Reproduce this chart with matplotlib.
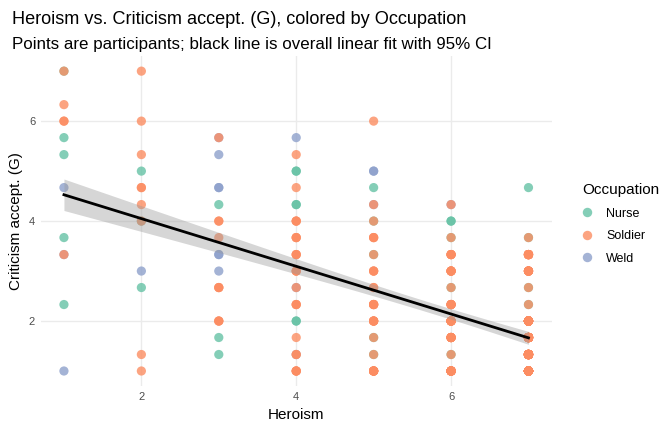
import numpy as np
import matplotlib
matplotlib.use("Agg")
import matplotlib.pyplot as plt
from matplotlib.lines import Line2D

plt.rcParams['font.family'] = ['Liberation Sans', 'DejaVu Sans']

# Distinct (heroism, criticism, occupation) positions and how many participants
# sit on each one (stacked points).
heroism = [
    1, 1, 1, 1, 1, 1, 1, 1, 1, 1, 1, 1,
    2, 2, 2, 2, 2, 2, 2, 2, 2, 2, 2, 2,
    3, 3, 3, 3, 3, 3, 3, 3, 3, 3, 3, 3, 3,
    4, 4, 4, 4, 4, 4, 4, 4, 4, 4, 4, 4, 4, 4, 4, 4, 4,
    5, 5, 5, 5, 5, 5, 5, 5, 5, 5, 5, 5, 5, 5, 5, 5, 5, 5, 5,
    6, 6, 6, 6, 6, 6, 6, 6, 6, 6, 6, 6, 6, 6, 6,
    7, 7, 7, 7, 7, 7, 7, 7, 7, 7, 7, 7, 7,
]
criticism = [
    7, 7, 6.33, 6, 5.67, 5.33, 4.67, 3.67, 3.33, 3.33, 2.33, 1,
    7, 6, 5.33, 5, 4.67, 4.33, 4, 4, 3, 2.67, 1.33, 1,
    5.67, 5.67, 5.33, 4.67, 4.33, 4, 3.67, 3.33, 3, 2.67, 2, 1.67, 1.33,
    5.67, 5.33, 5, 4.67, 4.33, 4, 3.67, 3.33, 3, 2.67, 2.67, 2.33, 2, 1.67, 1.33, 1.33, 1,
    6, 5, 4.67, 4.33, 4.33, 4, 4, 3.67, 3.33, 3.33, 3, 2.67, 2.33, 2, 1.67, 1.67, 1.33, 1.33, 1,
    4.33, 4.33, 4, 3.67, 3.67, 3.33, 3, 2.67, 2.67, 2.33, 2, 1.67, 1.33, 1.33, 1,
    4.67, 3.67, 3.67, 3.33, 3, 2.67, 2.67, 2.33, 2.33, 2, 1.67, 1.33, 1,
]
occupation = [
    "Nurse", "Soldier", "Soldier", "Soldier", "Nurse", "Nurse", "Weld", "Nurse", "Weld", "Soldier", "Nurse", "Weld",
    "Soldier", "Soldier", "Soldier", "Nurse", "Soldier", "Soldier", "Nurse", "Soldier", "Weld", "Nurse", "Soldier", "Soldier",
    "Weld", "Soldier", "Weld", "Weld", "Nurse", "Soldier", "Soldier", "Weld", "Weld", "Soldier", "Soldier", "Nurse", "Nurse",
    "Weld", "Soldier", "Nurse", "Soldier", "Nurse", "Soldier", "Soldier", "Soldier", "Soldier", "Weld", "Soldier",
    "Soldier", "Nurse", "Soldier", "Weld", "Soldier", "Soldier",
    "Soldier", "Weld", "Nurse", "Weld", "Soldier", "Nurse", "Soldier", "Soldier", "Nurse", "Soldier", "Soldier",
    "Soldier", "Soldier", "Soldier", "Nurse", "Soldier", "Nurse", "Soldier", "Soldier",
    "Weld", "Soldier", "Nurse", "Nurse", "Soldier", "Soldier", "Soldier", "Nurse", "Soldier", "Soldier", "Soldier",
    "Soldier", "Nurse", "Soldier", "Soldier",
    "Nurse", "Nurse", "Soldier", "Soldier", "Soldier", "Nurse", "Soldier", "Nurse", "Soldier", "Soldier", "Soldier",
    "Soldier", "Soldier",
]
count = [
    1, 1, 1, 2, 1, 1, 1, 1, 1, 1, 1, 1,
    1, 1, 1, 1, 2, 1, 1, 1, 1, 1, 1, 1,
    1, 1, 1, 2, 1, 2, 1, 2, 1, 3, 3, 1, 1,
    1, 1, 2, 1, 2, 3, 3, 3, 3, 1, 1, 3, 2, 1, 1, 2, 4,
    1, 2, 1, 1, 1, 1, 1, 3, 1, 1, 3, 2, 5, 5, 1, 1, 1, 1, 8,
    1, 1, 2, 1, 1, 5, 6, 1, 1, 6, 10, 8, 1, 1, 15,
    1, 1, 1, 12, 10, 1, 1, 1, 1, 32, 37, 44, 58,
]

categories = ["Nurse", "Soldier", "Weld"]
colors = {"Nurse": "#66C2A5", "Soldier": "#FC8D62", "Weld": "#8DA0CB"}
x_ticks = [2, 4, 6]
y_ticks = [2, 4, 6]

hx = np.repeat(np.array(heroism, dtype=float), count)
cy = np.repeat(np.array(criticism, dtype=float), count)
oc = np.repeat(np.array(occupation), count)

fig = plt.figure(figsize=(6.72, 4.32), dpi=100)
ax = fig.add_axes([0.0606, 0.1065, 0.7604, 0.7635])

for spine in ax.spines.values():
    spine.set_visible(False)
ax.set_facecolor("white")
ax.grid(True, color="#EBEBEB", linewidth=1.0)
ax.set_axisbelow(True)
ax.tick_params(length=0, labelsize=8, labelcolor="#4D4D4D", pad=4)

for cat in ["Nurse", "Weld", "Soldier"]:
    m = oc == cat
    ax.scatter(hx[m], cy[m], s=44, color=colors[cat], alpha=0.8,
               edgecolors="none", zorder=2)

# overall linear fit with 95% CI
n = len(hx)
slope, intercept = np.polyfit(hx, cy, 1)
xs = np.linspace(hx.min(), hx.max(), 80)
yhat = intercept + slope * xs
resid = cy - (intercept + slope * hx)
s_err = np.sqrt(np.sum(resid ** 2) / (n - 2))
xm = hx.mean()
sxx = np.sum((hx - xm) ** 2)
se = s_err * np.sqrt(1.0 / n + (xs - xm) ** 2 / sxx)
tval = 1.966
ax.fill_between(xs, yhat - tval * se, yhat + tval * se, color="#999999", alpha=0.4,
                linewidth=0, zorder=3)
ax.plot(xs, yhat, color="black", linewidth=2.0, zorder=4)

ax.set_xlim(0.7, 7.3)
ax.set_ylim(0.7, 7.3)
ax.set_xticks(x_ticks)
ax.set_yticks(y_ticks)
ax.set_xticklabels([str(t) for t in x_ticks])
ax.set_yticklabels([str(t) for t in y_ticks])
ax.set_xlabel("Heroism", fontsize=11, color="black", labelpad=5)
ax.set_ylabel("Criticism accept. (G)", fontsize=11, color="black", labelpad=4)

fig.text(0.018, 0.945, "Heroism vs. Criticism accept. (G), colored by Occupation",
         fontsize=13.1, ha="left", va="baseline")
fig.text(0.018, 0.886, "Points are participants; black line is overall linear fit with 95% CI",
         fontsize=12.2, ha="left", va="baseline")

handles = [Line2D([0], [0], marker="o", linestyle="none", markersize=6.8,
                  markerfacecolor=colors[c], markeredgecolor="none", alpha=0.8)
           for c in categories]
leg = fig.legend(handles, categories, loc="upper left", bbox_to_anchor=(0.859, 0.588),
                 frameon=False, title="Occupation", fontsize=9, title_fontsize=11,
                 handlelength=0.8, handletextpad=1.1, labelspacing=0.85, borderaxespad=0)
leg._legend_box.align = "left"

fig.savefig("out.png", dpi=100)
